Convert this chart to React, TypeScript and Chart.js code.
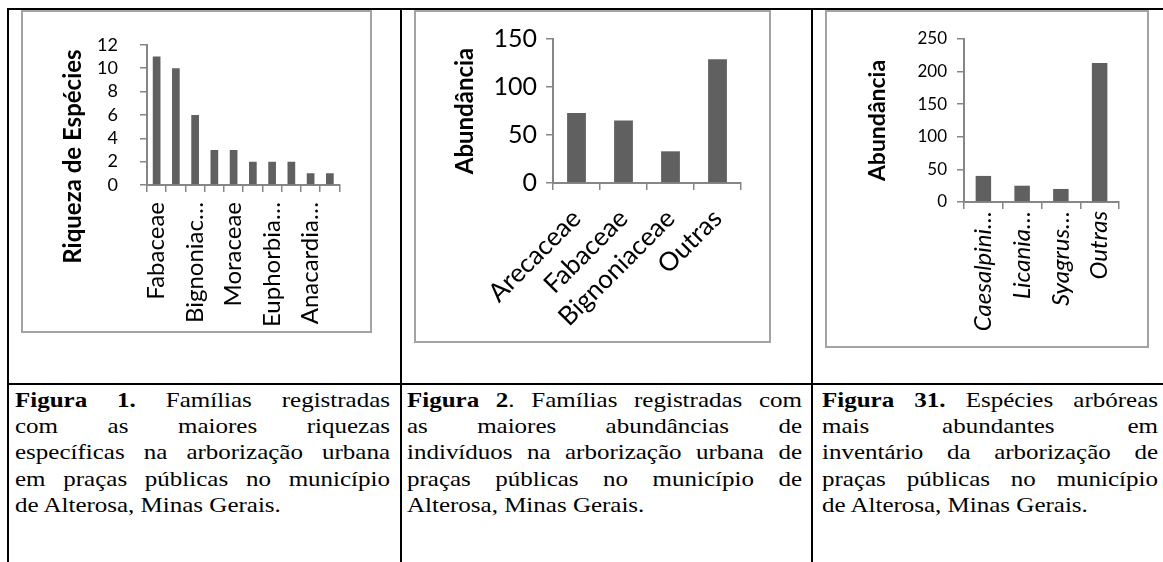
import React, { useEffect, useRef } from "react";
import { Chart, registerables } from "chart.js";

Chart.register(...registerables);

// ---------- data ----------
const fig1Categories = ["Fabaceae", "", "Bignoniac…", "", "Moraceae", "", "Euphorbia…", "", "Anacardia…", ""];
const fig1Values = [11, 10, 6, 3, 3, 2, 2, 2, 1, 1];
const fig1YMax = 12;
const fig1YStep = 2;
const fig1Title = "Riqueza de Espécies";

const fig2Categories = ["Arecaceae", "Fabaceae", "Bignoniaceae", "Outras"];
const fig2Values = [73, 65, 33, 129];
const fig2YMax = 150;
const fig2YStep = 50;
const fig2Title = "Abundância";

const fig3Categories = ["Caesalpini…", "Licania…", "Syagrus…", "Outras"];
const fig3Values = [40, 25, 20, 213];
const fig3YMax = 250;
const fig3YStep = 50;
const fig3Title = "Abundância";

const caption1 = [
  { bold: "Figura 1.", text: " Famílias registradas" },
  { bold: "", text: "com as maiores riquezas" },
  { bold: "", text: "específicas na arborização urbana" },
  { bold: "", text: "em praças públicas no município" },
  { bold: "", text: "de Alterosa, Minas Gerais." },
];
const caption2 = [
  { bold: "Figura 2", text: ". Famílias registradas com" },
  { bold: "", text: "as maiores abundâncias de" },
  { bold: "", text: "indivíduos na arborização urbana de" },
  { bold: "", text: "praças públicas no município de" },
  { bold: "", text: "Alterosa, Minas Gerais." },
];
const caption3 = [
  { bold: "Figura 31.", text: " Espécies arbóreas" },
  { bold: "", text: "mais abundantes em" },
  { bold: "", text: "inventário da arborização de" },
  { bold: "", text: "praças públicas no município" },
  { bold: "", text: "de Alterosa, Minas Gerais." },
];

// ---------- styles ----------
const FONT = "Lato, 'Open Sans', sans-serif";
const BAR = "#606060";
const AXIS = "#868686";
const BOX = "#a3a3a3";

const yTitlePlugin = {
  id: "yTitle",
  afterDraw(chart: any, _args: any, opts: any) {
    if (!opts || !opts.text) return;
    const { ctx, chartArea } = chart;
    const cy = opts.y != null ? opts.y : (chartArea.top + chartArea.bottom) / 2;
    ctx.save();
    ctx.translate(opts.x, cy);
    ctx.rotate(-Math.PI / 2);
    ctx.font = `bold ${opts.size}px ${FONT}`;
    ctx.fillStyle = "#000";
    ctx.textAlign = "center";
    ctx.textBaseline = "middle";
    ctx.fillText(opts.text, 0, 0);
    ctx.restore();
  },
};

type Spec = {
  labels: string[];
  values: number[];
  yMax: number;
  yStep: number;
  width: number;
  height: number;
  area: { left: number; right: number; top: number; bottom: number };
  yTickSize: number;
  yTickPad: number;
  xSize: number;
  xStyle: "normal" | "italic";
  xRot: number;
  xPad: number;
  title: string;
  titleSize: number;
  titleX: number;
  titleY?: number;
};

function BarChart({ spec, box }: { spec: Spec; box: { left: number; top: number } }) {
  const ref = useRef<HTMLCanvasElement | null>(null);
  useEffect(() => {
    if (!ref.current) return;
    const s = spec;
    const chart = new Chart(ref.current, {
      type: "bar",
      data: {
        labels: s.labels,
        datasets: [
          {
            data: s.values,
            backgroundColor: BAR,
            borderWidth: 0,
            barPercentage: 0.4,
            categoryPercentage: 1,
          },
        ],
      },
      options: {
        animation: false,
        responsive: false,
        maintainAspectRatio: false,
        events: [],
        layout: { padding: { left: 0, top: s.area.top, right: s.width - s.area.right, bottom: 0 } },
        plugins: {
          legend: { display: false },
          tooltip: { enabled: false },
          yTitle: { text: s.title, size: s.titleSize, x: s.titleX, y: s.titleY },
        } as any,
        scales: {
          x: {
            grid: {
              display: true,
              drawOnChartArea: false,
              drawTicks: true,
              tickLength: 7,
              color: AXIS,
              lineWidth: 1.5,
              offset: true,
            },
            border: { display: true, color: AXIS, width: 2 },
            ticks: {
              autoSkip: false,
              maxRotation: s.xRot,
              minRotation: s.xRot,
              padding: s.xPad,
              color: "#000",
              font: { family: FONT, size: s.xSize, style: s.xStyle },
            },
            afterFit: (sc: any) => {
              sc.height = s.height - s.area.bottom;
            },
          },
          y: {
            min: 0,
            max: s.yMax,
            ticks: {
              stepSize: s.yStep,
              autoSkip: false,
              padding: s.yTickPad,
              color: "#000",
              font: { family: FONT, size: s.yTickSize },
            },
            grid: {
              drawOnChartArea: false,
              drawTicks: true,
              tickLength: 7,
              color: AXIS,
              lineWidth: 1.5,
            },
            border: { display: true, color: AXIS, width: 2 },
            afterFit: (sc: any) => {
              sc.width = s.area.left;
            },
          },
        },
      } as any,
      plugins: [yTitlePlugin as any],
    });
    return () => chart.destroy();
  }, [spec]);
  return (
    <div
      style={{
        position: "absolute",
        left: box.left,
        top: box.top,
        width: spec.width,
        height: spec.height,
        border: `2px solid ${BOX}`,
        background: "#fff",
      }}
    >
      <canvas ref={ref} width={spec.width} height={spec.height} style={{ display: "block" }} />
    </div>
  );
}

const spec1: Spec = {
  labels: fig1Categories,
  values: fig1Values,
  yMax: fig1YMax,
  yStep: fig1YStep,
  width: 347,
  height: 319,
  area: { left: 124, right: 320, top: 27, bottom: 173 },
  yTickSize: 18,
  yTickPad: 22,
  xSize: 24,
  xStyle: "normal",
  xRot: 90,
  xPad: 10,
  title: fig1Title,
  titleSize: 24,
  titleX: 50,
  titleY: 144.5,
};

const spec2: Spec = {
  labels: fig2Categories,
  values: fig2Values,
  yMax: fig2YMax,
  yStep: fig2YStep,
  width: 353,
  height: 329,
  area: { left: 137, right: 325, top: 27, bottom: 171 },
  yTickSize: 25,
  yTickPad: 9,
  xSize: 26,
  xStyle: "normal",
  xRot: 45,
  xPad: 13,
  title: fig2Title,
  titleSize: 24,
  titleX: 49,
};

const spec3: Spec = {
  labels: fig3Categories,
  values: fig3Values,
  yMax: fig3YMax,
  yStep: fig3YStep,
  width: 320,
  height: 334,
  area: { left: 137, right: 292, top: 27, bottom: 190 },
  yTickSize: 17,
  yTickPad: 10,
  xSize: 24,
  xStyle: "italic",
  xRot: 90,
  xPad: 2,
  title: fig3Title,
  titleSize: 23,
  titleX: 51,
};

type Line = { bold: string; text: string };

const CAP_FONT = 21;
const CAP_STRETCH = 1.19;

function Caption({ lines, left, width }: { lines: Line[]; left: number; width: number }) {
  return (
    <div
      style={{
        position: "absolute",
        left,
        top: 386.8,
        width: width / CAP_STRETCH,
        transform: `scaleX(${CAP_STRETCH})`,
        transformOrigin: "left top",
        fontFamily: "'Liberation Serif', 'Times New Roman', serif",
        fontSize: CAP_FONT,
        lineHeight: "26.3px",
        color: "#000",
      }}
    >
      {lines.map((l, i) => {
        const last = i === lines.length - 1;
        return (
          <div
            key={i}
            style={{
              whiteSpace: "nowrap",
              textAlign: last ? "left" : "justify",
              textAlignLast: last ? "left" : "justify",
            } as any}
          >
            {l.bold ? <b>{l.bold}</b> : null}
            {l.text}
          </div>
        );
      })}
    </div>
  );
}

const lineStyle = (left: number, top: number, width: number, height: number): React.CSSProperties => ({
  position: "absolute",
  left,
  top,
  width,
  height,
  background: "#000",
});

export default function App() {
  return (
    <div
      style={{
        position: "absolute",
        left: 0,
        top: 0,
        width: 1163,
        height: 562,
        background: "#fff",
        overflow: "hidden",
      }}
    >
      {/* table rules */}
      <div style={lineStyle(7, 8, 1156, 2)} />
      <div style={lineStyle(7, 8, 2, 554)} />
      <div style={lineStyle(400, 8, 2, 554)} />
      <div style={lineStyle(811, 8, 2, 554)} />
      <div style={lineStyle(7, 383, 1156, 2)} />

      <BarChart spec={spec1} box={{ left: 21, top: 10 }} />
      <BarChart spec={spec2} box={{ left: 414, top: 10 }} />
      <BarChart spec={spec3} box={{ left: 825, top: 10 }} />

      <Caption lines={caption1} left={15} width={375} />
      <Caption lines={caption2} left={407} width={395} />
      <Caption lines={caption3} left={822} width={336} />
    </div>
  );
}
